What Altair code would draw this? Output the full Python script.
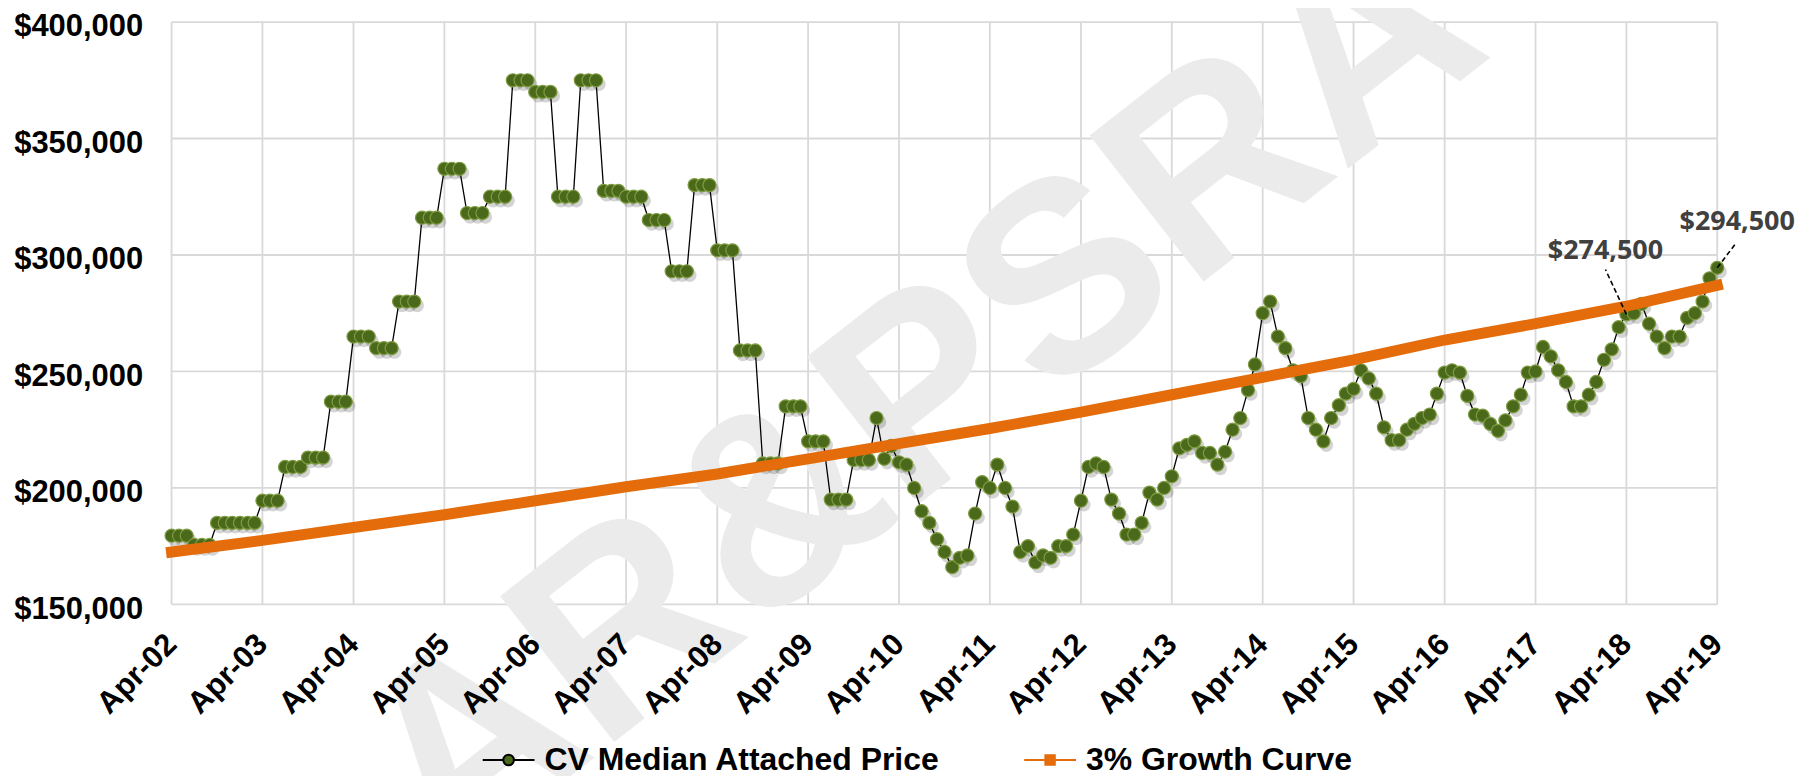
import altair as alt
import pandas as pd

# ---------------- data ----------------
series_names = ["CV Median Attached Price", "3% Growth Curve"]

# monthly CV median attached price, Apr-2002 .. Apr-2019
prices = [
    179500, 179500, 179500, 175500, 175500, 175500, 185000, 185000, 185000,                  # Apr-Dec 2002
    185000, 185000, 185000, 194500, 194500, 194500, 209000, 209000, 209000, 213000, 213000, 213000,  # 2003
    237000, 237000, 237000, 265000, 265000, 265000, 260000, 260000, 260000, 280000, 280000, 280000,  # 2004
    316000, 316000, 316000, 337000, 337000, 337000, 318000, 318000, 318000, 325000, 325000, 325000,  # 2005
    375000, 375000, 375000, 370000, 370000, 370000, 325000, 325000, 325000, 375000, 375000, 375000,  # 2006
    327500, 327500, 327500, 325000, 325000, 325000, 315000, 315000, 315000, 293000, 293000, 293000,  # 2007
    330000, 330000, 330000, 302000, 302000, 302000, 259000, 259000, 259000, 210500, 210500, 210500,  # 2008
    235000, 235000, 235000, 220000, 220000, 220000, 195000, 195000, 195000, 212000, 212000, 212000,  # 2009
    230000, 212500, 218000, 211000, 210000, 200000, 190000, 185000, 178000, 172500, 166000, 170000,  # 2010
    171000, 189000, 202500, 200000, 210000, 200000, 192000, 172500, 175000, 168000, 171000, 170000,  # 2011
    175000, 175000, 180000, 194500, 209000, 210500, 209000, 195000, 189000, 180000, 180000, 185000,  # 2012
    198000, 195000, 200000, 205000, 217000, 218500, 220000, 215000, 215000, 210000, 215500, 225000,  # 2013
    230000, 242000, 253000, 275000, 280000, 265000, 260000, 250500, 248000, 230000, 225000, 220000,  # 2014
    230000, 235500, 240500, 242500, 250500, 247000, 240500, 226000, 220500, 220500, 225000, 227500,  # 2015
    230000, 231500, 240500, 249500, 250500, 249500, 239500, 231500, 231000, 227500, 224500, 229000,  # 2016
    235000, 240000, 249500, 250000, 260500, 256500, 250500, 245500, 235000, 235000, 240000, 245500,  # 2017
    255000, 259500, 269000, 274500, 275000, 279000, 270500, 265000, 260000, 265000, 265000, 273000,  # 2018
    275000, 280000, 290000, 294500,                                                          # Jan-Apr 2019
]

# 3% growth curve, read at each April (2002..2019)
growth = [172500, 177500, 183000, 188500, 194500, 200500, 206000, 212500, 219000,
          225500, 232500, 240000, 247500, 255000, 263500, 270500, 278000, 287000]

years = list(range(2002, 2020))
y_ticks = [150000, 200000, 250000, 300000, 350000, 400000]

ann_dates = ["2018-04-01", "2019-04-01"]
ann_values = [274500, 294500]
ann_labels = ["$274,500", "$294,500"]

watermark_text = "AR&PSRA"

# ---------------- frames ----------------
months = pd.date_range("2002-04-01", periods=len(prices), freq="MS")
price_df = pd.DataFrame({"date": months, "value": prices})
april_dates = pd.to_datetime([f"{y}-04-01" for y in years])
growth_df = pd.DataFrame({"date": april_dates, "value": growth})
xgrid_df = pd.DataFrame({"date": april_dates})
ygrid_df = pd.DataFrame({"value": y_ticks})
ann_df = pd.DataFrame({"date": pd.to_datetime(ann_dates), "value": ann_values, "label": ann_labels})
wm_df = pd.DataFrame({"date": pd.to_datetime(["2010-07-01"]), "value": [238000], "t": [watermark_text]})
legend_df = pd.DataFrame({"series": series_names,
                          "date": pd.to_datetime(["2002-04-01", "2002-04-01"]),
                          "value": [100000, 100000]})

FONT = "Liberation Sans, Arial, sans-serif"
GREEN = "#4a691b"
ORANGE = "#e46c0a"
GRID = "#d9d9d9"

x_scale = alt.Scale(domain=[alt.DateTime(year=2002, month=4, date=1),
                            alt.DateTime(year=2019, month=4, date=1)])
x_axis = alt.Axis(values=[alt.DateTime(year=y, month=4, date=1) for y in years],
                  format="%b-%y", labelAngle=315, labelAlign="right", labelBaseline="middle",
                  labelFont=FONT, labelFontSize=31, labelFontWeight="bold", labelColor="black",
                  labelPadding=35, labelOverlap=False, grid=False, domain=False, ticks=False,
                  zindex=1, title=None)
y_scale = alt.Scale(domain=[150000, 400000], nice=False, zero=False)
y_axis = alt.Axis(values=y_ticks, format="$,.0f", labelFont=FONT, labelFontSize=31,
                  labelFontWeight="bold", labelColor="black", labelPadding=29, labelOffset=5,
                  grid=False, domain=False, ticks=False, zindex=1, title=None)

X = alt.X("date:T", scale=x_scale, axis=x_axis)
Y = alt.Y("value:Q", scale=y_scale, axis=y_axis)

xgrid = alt.Chart(xgrid_df).mark_rule(color=GRID, strokeWidth=1.8).encode(x=X)
ygrid = alt.Chart(ygrid_df).mark_rule(color=GRID, strokeWidth=1.8).encode(y=Y)

watermark = alt.Chart(wm_df).mark_text(
    font=FONT, fontSize=270, fontWeight="bold", color="#ebebeb", angle=322,
    align="center", baseline="middle"
).encode(x=X, y=Y, text="t:N")

price_line = alt.Chart(price_df).mark_line(color="black", strokeWidth=1.3).encode(x=X, y=Y)
shadow = alt.Chart(price_df).mark_point(filled=True, size=180, color="#000000", opacity=0.17,
                                        xOffset=3, yOffset=4).encode(x=X, y=Y)
points = alt.Chart(price_df).mark_point(filled=True, size=172, fill=GREEN, stroke="#7f9c42",
                                        strokeWidth=1.2, opacity=1).encode(x=X, y=Y)
growth_line = alt.Chart(growth_df).mark_line(color=ORANGE, strokeWidth=11, strokeCap="square").encode(x=X, y=Y)

ann1_df = ann_df.iloc[[0]]
ann2_df = ann_df.iloc[[1]]
lead1 = alt.Chart(ann1_df).mark_rule(color="black", strokeWidth=1.6, strokeDash=[5, 3],
                                     x2Offset=-21, y2Offset=-45).encode(x=X, y=Y, x2="date:T", y2="value:Q")
lead2 = alt.Chart(ann2_df).mark_rule(color="black", strokeWidth=1.6, strokeDash=[5, 3],
                                     x2Offset=19, y2Offset=-25).encode(x=X, y=Y, x2="date:T", y2="value:Q")
txt1 = alt.Chart(ann1_df).mark_text(font="Open Sans", fontWeight="bold", fontSize=27, color="#404040",
                                    dx=-21, dy=-64).encode(x=X, y=Y, text="label:N")
txt2 = alt.Chart(ann2_df).mark_text(font="Open Sans", fontWeight="bold", fontSize=27, color="#404040",
                                    dx=20, dy=-46).encode(x=X, y=Y, text="label:N")

path_circle = "M-2.2,0H-0.45M0.45,0H2.2M-0.45,0A0.45,0.45,0,1,1,0.45,0A0.45,0.45,0,1,1,-0.45,0Z"
path_square = "M-2.2,0H2.2M-0.4,-0.4H0.4V0.4H-0.4Z"

leg = dict(title=None, orient="none", legendX=322, legendY=724, direction="horizontal",
           symbolSize=557, symbolStrokeWidth=2, symbolOpacity=1,
           labelFont=FONT, labelFontSize=32, labelFontWeight="bold", labelColor="black",
           labelLimit=900, labelOffset=20, columnPadding=80, padding=0, zindex=1)

legend_layer = alt.Chart(legend_df).mark_point(clip=True, filled=True, size=557, strokeWidth=2, opacity=1).encode(
    x=X, y=Y,
    fill=alt.Fill("series:N", scale=alt.Scale(domain=series_names, range=[GREEN, ORANGE]), legend=alt.Legend(**leg)),
    stroke=alt.Stroke("series:N", scale=alt.Scale(domain=series_names, range=["black", ORANGE]), legend=alt.Legend(**leg)),
    shape=alt.Shape("series:N", scale=alt.Scale(domain=series_names, range=[path_circle, path_square]), legend=alt.Legend(**leg)),
)

chart = alt.layer(
    xgrid, ygrid, watermark, price_line, shadow, points, growth_line,
    lead1, lead2, txt1, txt2, legend_layer
).properties(
    width=1550, height=584,
    padding={"left": 164, "top": 13, "right": 90, "bottom": 172},
    autosize=alt.AutoSizeParams(type="none"),
    background="white",
).configure_view(stroke=None)

chart.save("out.html", embed_options={"renderer": "svg", "actions": False})
